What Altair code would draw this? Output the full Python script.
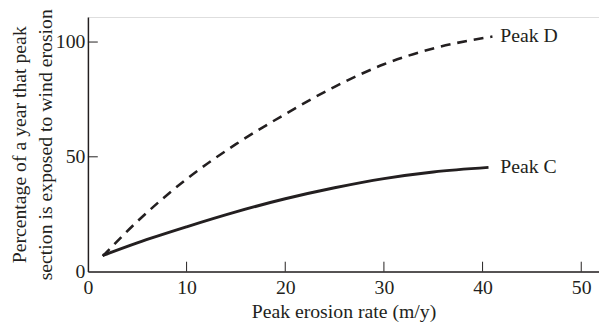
import altair as alt
import pandas as pd

# Data
x_c = [1.5, 5, 10, 15, 20, 25, 30, 35, 40.6]
peak_c = [7.0, 12.5, 19.5, 26.0, 31.7, 36.5, 40.5, 43.4, 45.4]
x_d = [1.5, 5, 10, 15, 20, 25, 30, 35, 41.0]
peak_d = [6.7, 21.8, 40.3, 55.5, 68.6, 80.5, 90.3, 97.2, 102.4]

x_ticks = [0, 10, 20, 30, 40, 50]
y_ticks = [0, 50, 100]
series_names = ["Peak C", "Peak D"]

FONT = "Liberation Serif"
INK = "#231f20"
W, H = 518, 258

df_c = pd.DataFrame({"x": x_c, "y": peak_c, "series": series_names[0]})
df_d = pd.DataFrame({"x": x_d, "y": peak_d, "series": series_names[1]})
end_c = pd.DataFrame({"x": [x_c[-1]], "y": [peak_c[-1]], "label": [series_names[0]]})
end_d = pd.DataFrame({"x": [x_d[-1]], "y": [peak_d[-1]], "label": [series_names[1]]})

xs = alt.Scale(domain=[0, 51.8], nice=False, zero=False)
ys = alt.Scale(domain=[0, 110.9], nice=False, zero=False)

x_axis = alt.Axis(values=x_ticks, tickSize=0, labelPadding=6, domainWidth=1.5,
                  domainColor=INK, labelColor=INK, titleColor=INK, grid=False,
                  labelFontSize=20, titleFontSize=20, labelFont=FONT, titleFont=FONT,
                  titleFontWeight="normal", titlePadding=5, labelFlush=False)
y_axis = alt.Axis(values=y_ticks, tickSize=0, labelPadding=3, domainWidth=1.5,
                  domainColor=INK, labelColor=INK, titleColor=INK, grid=False,
                  labelFontSize=20, titleFontSize=20, labelFont=FONT, titleFont=FONT,
                  titleFontWeight="normal", titleAngle=-90, titleAlign="center",
                  titleBaseline="top", titleX=-79, titleY=H / 2, titleLineHeight=26,
                  labelFlush=False)

line_c = alt.Chart(df_c).mark_line(color=INK, strokeWidth=3, interpolate="monotone").encode(
    x=alt.X("x:Q", scale=xs, axis=x_axis, title="Peak erosion rate (m/y)"),
    y=alt.Y("y:Q", scale=ys, axis=y_axis,
            title=["Percentage of a year that peak", "section is exposed to wind erosion"]),
)
line_d = alt.Chart(df_d).mark_line(color=INK, strokeWidth=2.6, strokeDash=[10, 7],
                                   interpolate="monotone").encode(
    x=alt.X("x:Q", scale=xs),
    y=alt.Y("y:Q", scale=ys),
)
label_c = alt.Chart(end_c).mark_text(align="left", baseline="middle", font=FONT, fontSize=20,
                                     color=INK, dx=12).encode(
    x=alt.X("x:Q", scale=xs), y=alt.Y("y:Q", scale=ys), text="label:N")
label_d = alt.Chart(end_d).mark_text(align="left", baseline="middle", font=FONT, fontSize=20,
                                     color=INK, dx=8).encode(
    x=alt.X("x:Q", scale=xs), y=alt.Y("y:Q", scale=ys), text="label:N")

xt = pd.DataFrame({"v": x_ticks[1:]})
yt = pd.DataFrame({"v": y_ticks[1:]})
xtick = alt.Chart(xt).mark_rule(color=INK, strokeWidth=1).encode(
    x=alt.X("v:Q", scale=xs), y=alt.value(H), y2=alt.value(H - 10))
ytick = alt.Chart(yt).mark_rule(color=INK, strokeWidth=1).encode(
    y=alt.Y("v:Q", scale=ys), x=alt.value(0), x2=alt.value(10))

chart = alt.layer(line_c, line_d, label_c, label_d, xtick, ytick).properties(
    width=W, height=H,
    autosize=alt.AutoSizeParams(type="none"),
    padding={"left": 81, "top": 7, "right": 0, "bottom": 51},
).configure_view(stroke=None).configure(background="white")

chart.save("out.html", embed_options={"renderer": "svg", "actions": False})
